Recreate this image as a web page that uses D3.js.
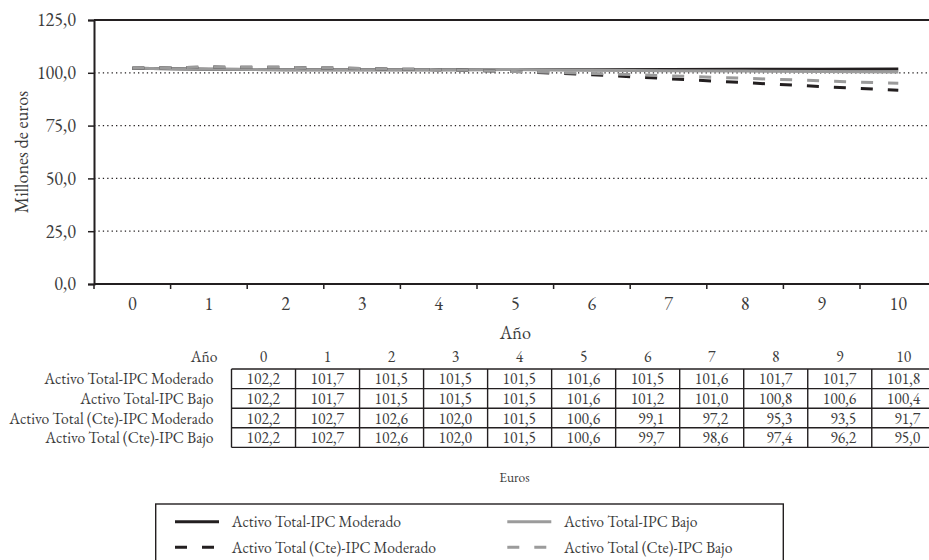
<!DOCTYPE html>
<html>
<head>
<meta charset="utf-8">
<script src="https://cdn.jsdelivr.net/npm/d3@7"></script>
<style>
  html, body { margin: 0; padding: 0; background: #fff; }
  svg { display: block; }
</style>
</head>
<body>
<svg id="chart" width="929" height="560"></svg>
<script>
// ---- data ----
const years = [0, 1, 2, 3, 4, 5, 6, 7, 8, 9, 10];
const seriesNames = [
  "Activo Total-IPC Moderado",
  "Activo Total-IPC Bajo",
  "Activo Total (Cte)-IPC Moderado",
  "Activo Total (Cte)-IPC Bajo"
];
const totalModerado    = [102.2, 101.7, 101.5, 101.5, 101.5, 101.6, 101.5, 101.6, 101.7, 101.7, 101.8];
const totalBajo        = [102.2, 101.7, 101.5, 101.5, 101.5, 101.6, 101.2, 101.0, 100.8, 100.6, 100.4];
const cteModerado      = [102.2, 102.7, 102.6, 102.0, 101.5, 100.6, 99.1, 97.2, 95.3, 93.5, 91.7];
const cteBajo          = [102.2, 102.7, 102.6, 102.0, 101.5, 100.6, 99.7, 98.6, 97.4, 96.2, 95.0];
const yTicks = [0, 25, 50, 75, 100, 125];
const yTitle = "Millones de euros";
const xTitle = "Año";
const unitLabel = "Euros";

const seriesValues = [totalModerado, totalBajo, cteModerado, cteBajo];
const seriesStyle = [
  { color: "#231f20", dash: null },
  { color: "#9b9b9b", dash: null },
  { color: "#231f20", dash: "12,15" },
  { color: "#9b9b9b", dash: "12,15" }
];

const FONT = "'EB Garamond', 'Liberation Serif', 'Times New Roman', serif";
const locale = d3.formatLocale({ decimal: ",", thousands: ".", grouping: [3], currency: ["", " €"] });
const fmt = locale.format(".1f");

const svg = d3.select("#chart");
const ink = "#231f20";
const txt = "#3c3c3c";

// ---- chart area ----
const plot = { left: 94, right: 936.6, top: 20, bottom: 284 };
const x = d3.scaleBand().domain(years).range([plot.left, plot.right]);
const y = d3.scaleLinear().domain([0, 125]).range([plot.bottom, plot.top]);

// gridlines
svg.append("g").selectAll("line")
  .data(yTicks.filter(t => t > 0 && t < 125))
  .join("line")
  .attr("x1", plot.left).attr("x2", 929)
  .attr("y1", d => y(d)).attr("y2", d => y(d))
  .attr("stroke", ink).attr("stroke-width", 1.3)
  .attr("stroke-dasharray", "1.3,3.1");

// top border
svg.append("line")
  .attr("x1", plot.left).attr("x2", 929)
  .attr("y1", y(125)).attr("y2", y(125))
  .attr("stroke", ink).attr("stroke-width", 2);

// y axis
const yAxis = svg.append("g")
  .attr("transform", `translate(${plot.left},0)`)
  .call(d3.axisLeft(y).tickValues(yTicks).tickSize(6).tickPadding(12).tickFormat(fmt));
yAxis.select(".domain").attr("stroke", ink).attr("stroke-width", 2);
yAxis.selectAll(".tick line").attr("stroke", ink).attr("stroke-width", 1.5);
yAxis.selectAll(".tick text")
  .style("font-family", FONT).attr("font-size", 18.2).attr("fill", txt);

// x axis
const xAxis = svg.append("g")
  .attr("transform", `translate(0,${plot.bottom})`)
  .call(d3.axisBottom(x).tickSize(0).tickPadding(13));
xAxis.select(".domain").attr("stroke", ink).attr("stroke-width", 2)
  .attr("d", `M${plot.left},0H${plot.right}`);
xAxis.selectAll(".tick text")
  .style("font-family", FONT).attr("font-size", 18.2).attr("fill", txt);
xAxis.selectAll("line.bound")
  .data(years)
  .join("line").attr("class", "bound")
  .attr("x1", d => x(d)).attr("x2", d => x(d))
  .attr("y1", 0).attr("y2", 5)
  .attr("stroke", ink).attr("stroke-width", 1.5);

// axis titles
svg.append("text")
  .attr("transform", `translate(21,${(plot.top + plot.bottom) / 2}) rotate(-90)`)
  .attr("text-anchor", "middle").attr("dominant-baseline", "central")
  .style("font-family", FONT).attr("font-size", 18.2).attr("fill", txt)
  .text(yTitle);
svg.append("text")
  .attr("x", (plot.left + plot.right) / 2).attr("y", 332)
  .attr("text-anchor", "middle").attr("dominant-baseline", "central")
  .style("font-family", FONT).attr("font-size", 18.2).attr("fill", txt)
  .text(xTitle);

// lines
const line = d3.line()
  .x((d, i) => x(years[i]) + x.bandwidth() / 2)
  .y(d => y(d));
seriesValues.forEach((vals, i) => {
  svg.append("path")
    .datum(vals)
    .attr("d", line)
    .attr("fill", "none")
    .attr("stroke", seriesStyle[i].color)
    .attr("stroke-width", 3)
    .attr("stroke-dasharray", seriesStyle[i].dash);
});

// ---- data table ----
const tx = d3.scaleBand().domain(years).range([231.5, 935.8]);
const rowTop = 369, rowH = 19.6;
const ty = d3.scaleBand().domain(seriesNames).range([rowTop, rowTop + rowH * seriesNames.length]);
const tableFont = 15.6;
const tg = svg.append("g");

// header
tg.append("text")
  .attr("x", 217.5).attr("y", 356.7)
  .attr("text-anchor", "end").attr("dominant-baseline", "central")
  .style("font-family", FONT).attr("font-size", tableFont).attr("fill", txt)
  .text(xTitle);
tg.selectAll("text.hdr").data(years).join("text").attr("class", "hdr")
  .attr("x", d => tx(d) + tx.bandwidth() / 2).attr("y", 356.7)
  .attr("text-anchor", "middle").attr("dominant-baseline", "central")
  .style("font-family", FONT).attr("font-size", tableFont).attr("fill", txt)
  .text(d => d);

// row labels
tg.selectAll("text.rl").data(seriesNames).join("text").attr("class", "rl")
  .attr("x", 213.5).attr("y", d => ty(d) + ty.bandwidth() / 2)
  .attr("text-anchor", "end").attr("dominant-baseline", "central")
  .style("font-family", FONT).attr("font-size", tableFont).attr("fill", txt)
  .text(d => d);

// cells
seriesNames.forEach((name, r) => {
  tg.selectAll(`text.v${r}`).data(seriesValues[r]).join("text").attr("class", `v${r}`)
    .attr("x", (d, i) => tx(years[i]) + 48.5)
    .attr("y", ty(name) + ty.bandwidth() / 2)
    .attr("text-anchor", "end").attr("dominant-baseline", "central")
    .style("font-family", FONT).attr("font-size", tableFont).attr("fill", txt)
    .text(d => fmt(d));
});

// grid lines of table
const tTop = ty.range()[0], tBot = ty.range()[1];
const hLines = seriesNames.map(n => ty(n)).concat([tBot]);
tg.selectAll("line.h").data(hLines).join("line").attr("class", "h")
  .attr("x1", tx.range()[0]).attr("x2", tx.range()[1])
  .attr("y1", d => d).attr("y2", d => d)
  .attr("stroke", ink).attr("stroke-width", 1.4);
tg.selectAll("line.v").data(years.map(d => tx(d)).concat([tx.range()[1]])).join("line").attr("class", "v")
  .attr("x1", d => d).attr("x2", d => d)
  .attr("y1", tTop).attr("y2", tBot)
  .attr("stroke", ink).attr("stroke-width", 1.4);

// unit label
svg.append("text")
  .attr("x", 514.5).attr("y", 476.7)
  .attr("text-anchor", "middle").attr("dominant-baseline", "central")
  .style("font-family", FONT).attr("font-size", 13.5).attr("fill", txt)
  .text(unitLabel);

// ---- legend ----
const lg = svg.append("g");
lg.append("rect")
  .attr("x", 155.7).attr("y", 504).attr("width", 783.3 - 155.7).attr("height", 70)
  .attr("fill", "none").attr("stroke", ink).attr("stroke-width", 1.4);
const legendPos = [
  { x: 175, y: 521.7 },
  { x: 507.3, y: 521.7 },
  { x: 175, y: 547.3 },
  { x: 507.3, y: 547.3 }
];
seriesNames.forEach((name, i) => {
  const p = legendPos[i];
  lg.append("line")
    .attr("x1", p.x).attr("x2", p.x + 44)
    .attr("y1", p.y).attr("y2", p.y)
    .attr("stroke", seriesStyle[i].color).attr("stroke-width", 3)
    .attr("stroke-dasharray", seriesStyle[i].dash);
  lg.append("text")
    .attr("x", p.x + 56.7).attr("y", p.y)
    .attr("dominant-baseline", "central")
    .style("font-family", FONT).attr("font-size", 15.6).attr("fill", txt)
    .text(name);
});
</script>
</body>
</html>
